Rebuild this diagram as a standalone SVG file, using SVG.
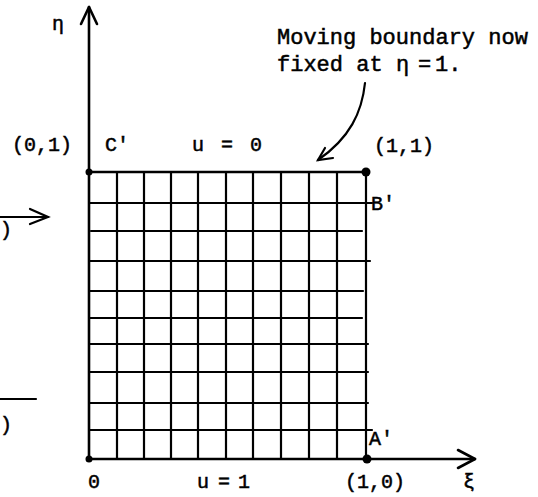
<svg xmlns="http://www.w3.org/2000/svg" width="538" height="497" viewBox="0 0 538 497">
<style>
.ln{stroke:#000;stroke-width:2.2;fill:none;stroke-linecap:round}
.ax{stroke:#000;stroke-width:2.6;fill:none;stroke-linecap:round;stroke-linejoin:round}
.t{font-family:"Liberation Mono","DejaVu Sans Mono",monospace;font-size:20px;fill:#000;stroke:#000;stroke-width:0.5}
.tb{font-family:"Liberation Mono","DejaVu Sans Mono",monospace;font-size:22px;fill:#000;stroke:#000;stroke-width:0.5}
</style>
<rect width="538" height="497" fill="#fff"/>
<g id="grid" class="ln">
<path d="M117,172V459M144,172V459M171,172V459M198,172V459M226,172V459M253,172V459M281,172V459M309,172V459M337,172V459"/>
<path d="M89,203H372M91,231H362M89,261H370M89,291H363M89,318H362M89,344H368M89,372H368M89,403H368M89,430H372"/>
<path d="M366,172V459"/>
</g>
<g id="axes" class="ax">
<path d="M89,7V459"/>
<path d="M81,24L89,7L97,24"/>
<path d="M89,459H475"/>
<path d="M458,450L475,459L458,468"/>
<path d="M89,172H367"/>
</g>
<g id="corners" fill="#000">
<circle cx="89" cy="172" r="3.5"/>
<circle cx="366" cy="172" r="4.5"/>
<circle cx="89" cy="459" r="3.5"/>
<circle cx="367" cy="459" r="4.5"/>
</g>
<g id="connectors" class="ln">
<path d="M365,83C362,112 350,138 318,160"/>
<path d="M325,148L318,160L333,158"/>
<path d="M0,217H48"/>
<path d="M30,209L48,217L30,224"/>
<path d="M0,399H36"/>
</g>
<g id="labels">
<text class="t" x="52" y="30">η</text>
<text class="t" x="12" y="151">(0,1)</text>
<text class="t" x="105" y="151">C'</text>
<text class="t" y="151"><tspan x="192">u</tspan><tspan x="221">=</tspan><tspan x="250">0</tspan></text>
<text class="t" x="374" y="152">(1,1)</text>
<text class="t" x="371" y="210">B'</text>
<text class="t" x="369" y="445">A'</text>
<text class="t" x="88" y="488">0</text>
<text class="t" y="488"><tspan x="197">u</tspan><tspan x="218">=</tspan><tspan x="238">1</tspan></text>
<text class="t" x="345" y="488">(1,0)</text>
<text class="t" x="463" y="488">ξ</text>
<text class="t" x="0" y="236">)</text>
<text class="t" x="0" y="431">)</text>
</g>
<g id="note">
<text class="tb" x="277" y="44">Moving boundary now</text>
<text class="tb" y="71"><tspan x="277">fixed at</tspan><tspan x="396">η</tspan><tspan x="418">=</tspan><tspan x="435">1.</tspan></text>
</g>
</svg>
